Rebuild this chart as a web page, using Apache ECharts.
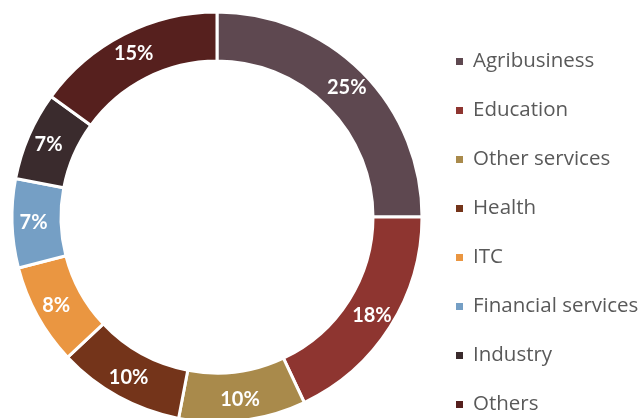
<!DOCTYPE html>
<html><head><meta charset="utf-8">
<script src="https://cdn.jsdelivr.net/npm/echarts@6/dist/echarts.min.js"></script>
<style>html,body{margin:0;padding:0;background:#fff}#c{width:644px;height:418px}</style>
</head><body><div id="c"></div>
<script>
const categories = ["Agribusiness","Education","Other services","Health","ITC","Financial services","Industry","Others"];
const values = [25,18,10,10,8,7,7,15];
const colors = ["#5E4850","#8E3530","#A98A4B","#74341A","#EA9641","#759FC5","#3A2B2D","#56201E"];

const chart = echarts.init(document.getElementById('c'), null, {renderer:'canvas'});
chart.setOption({
  animation:false,
  color: colors,
  legend: {
    orient:'vertical', left:454, top:51, height:400, padding:0,
    icon:'rect', itemWidth:9, itemHeight:9, itemGap:28,
    textStyle:{fontFamily:'Open Sans', fontSize:20.5, color:'#595959', lineHeight:20, padding:[0,0,0,4]},
    data: categories
  },
  series:[{
    type:'pie',
    center:[217,217],
    radius:[156,205],
    startAngle:90,
    clockwise:true,
    avoidLabelOverlap:false,
    itemStyle:{borderColor:'#fff', borderWidth:3},
    label:{show:true, position:'inside', formatter:'{c}%', color:'#fff', fontFamily:'Lato', fontWeight:'bold', fontSize:20},
    labelLine:{show:false},
    emphasis:{disabled:true},
    data: categories.map((n,i)=>({name:n, value:values[i]}))
  }]
});
</script></body></html>
